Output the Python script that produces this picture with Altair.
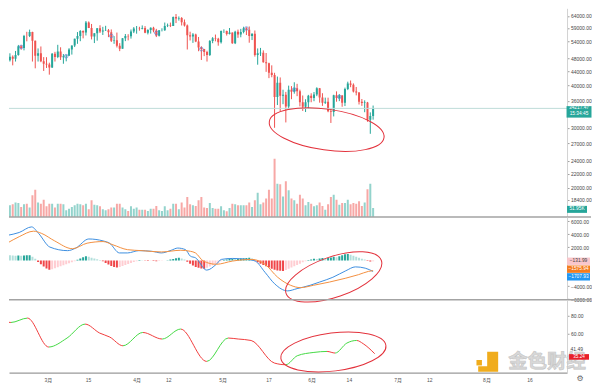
import altair as alt
import numpy as np
import pandas as pd

FONT = "Liberation Sans, Noto Sans CJK SC"

# ---------------- data (day 0 = 2021-02-15; first candle 2021-02-13) ----------------
first_day = -2
opens = [47240, 47400, 48590, 47910, 49130, 52120, 51550, 55900, 55840, 57410, 54090, 48890, 49680, 47070, 46280, 46100,
         45140, 49590, 48440, 50350, 48370, 48750, 48880, 50970, 52380, 54880, 55860, 57800, 57230, 61190, 59000, 55660,
         56900, 58910, 57650, 58030, 58100, 57350, 54100, 54340, 52300, 51300, 55050, 55880, 55780, 57630, 58770, 58800,
         58730, 58960, 57100, 58200, 59130, 57990, 56000, 58100, 58100, 59770, 59960, 59840, 63580, 62960, 63160, 61330,
         60000, 56150, 55660, 56470, 53800, 51700, 51190, 50110, 49120, 54050, 55040, 54880, 53590, 57800, 57850, 56610,
         57210, 53240, 57500, 56430, 57380, 58930, 58280, 55860, 56750, 49150, 49720, 49880, 46760, 46450, 43540, 42900,
         36970, 40700, 37300, 37530, 34650, 38800, 38320, 39240, 38440, 35660, 34600, 35650, 37290, 36690, 37570, 39190,
         36840, 35520, 35800, 33550, 33400, 37390, 36680, 37330, 35550, 39020, 40520, 40140, 38350, 38090, 35820, 35480,
         35600, 31680, 32500]
highs = [48150, 49700, 49000, 50500, 52600, 52550, 56300, 57500, 58350, 57530, 54180, 51370, 52050, 48430, 48400, 46640,
         49790, 50200, 52640, 51770, 49450, 49200, 51450, 52400, 54900, 57390, 58150, 58050, 61850, 61680, 60630, 56950,
         58980, 60100, 59470, 59880, 58600, 58420, 55840, 57200, 53240, 55070, 56640, 56560, 58400, 59370, 59800, 59490,
         60040, 59760, 58500, 59250, 59480, 58650, 58150, 58880, 61220, 60800, 61200, 63770, 64850, 63800, 63520, 62500,
         60400, 57530, 57000, 56760, 55520, 52130, 51200, 50560, 54360, 55460, 56430, 55200, 58000, 58450, 57950, 58990,
         57220, 57900, 58360, 58650, 59500, 59300, 59600, 56900, 58000, 51360, 51550, 50700, 49800, 46640, 45800, 43550,
         42450, 42200, 38830, 38270, 39920, 39790, 40840, 40410, 38850, 37340, 36400, 37500, 37900, 38230, 39480, 39290,
         37920, 36800, 36790, 34070, 37530, 38400, 37680, 37440, 39380, 41000, 41330, 40530, 39560, 38200, 36460, 36140,
         35750, 33300, 34880]
lows = [46200, 47000, 45800, 47000, 48900, 50900, 50700, 53900, 55480, 47000, 44890, 47000, 46800, 44100, 45000, 43000,
        45000, 47000, 48100, 47500, 46300, 47070, 48880, 49270, 51850, 53000, 53950, 55000, 56080, 58960, 54600, 53270,
        54150, 57020, 56270, 57820, 55450, 53650, 53000, 51700, 50430, 51300, 53970, 54240, 54900, 57000, 56770, 57930,
        58450, 56950, 56480, 56800, 57300, 55470, 55700, 57650, 57870, 59360, 59370, 59800, 61000, 62020, 60000, 59580,
        51000, 54220, 53330, 53600, 50400, 47500, 48750, 47000, 48800, 53220, 53900, 52330, 53100, 57050, 56050, 56480,
        53000, 52900, 55200, 55400, 56900, 56240, 53400, 54370, 48600, 46000, 48800, 46650, 43830, 42000, 42250, 30000,
        35000, 33490, 35200, 31110, 34030, 36420, 37800, 37170, 34680, 33630, 33380, 34150, 35670, 35920, 37170, 35570,
        34800, 35260, 33340, 31000, 32400, 35800, 35940, 34600, 34760, 38730, 39500, 38120, 37370, 35130, 34800, 33340,
        31250, 28800, 31700]
closes = [47400, 48590, 47910, 49130, 52120, 51550, 55900, 55840, 57410, 54090, 48890, 49680, 47070, 46280, 46100, 45140,
          49590, 48440, 50350, 48370, 48750, 48880, 50970, 52380, 54880, 55860, 57800, 57230, 61190, 59000, 55660, 56900,
          58910, 57650, 58030, 58100, 57350, 54100, 54340, 52300, 51300, 55050, 55880, 55780, 57630, 58770, 58800, 58730,
          58960, 57100, 58200, 59130, 57990, 56000, 58100, 58120, 59770, 59960, 59840, 63580, 62960, 63160, 61330, 60000,
          56150, 55660, 56470, 53800, 51700, 51190, 50110, 49120, 54050, 55040, 54880, 53590, 57800, 57850, 56610, 57210,
          53240, 57500, 56430, 57380, 58930, 58280, 55860, 56750, 49150, 49720, 49880, 46760, 46450, 43540, 42900, 36970,
          40700, 37300, 37530, 34650, 38800, 38320, 39240, 38440, 35660, 34600, 35650, 37290, 36690, 37570, 39190, 36840,
          35520, 35800, 33550, 33400, 37390, 36680, 37330, 35550, 39020, 40520, 40140, 38350, 38090, 35820, 35480, 35600,
          31680, 32500, 34217.47]
volumes_k = [58, 68, 73, 83, 81, 58, 73, 77, 54, 125,
             158, 83, 77, 100, 62, 77, 77, 54, 77, 77,
             73, 39, 48, 58, 68, 77, 73, 68, 77, 44,
             96, 71, 68, 62, 44, 39, 44, 54, 54, 77,
             77, 54, 44, 35, 62, 48, 54, 42, 42, 42,
             35, 48, 48, 63, 39, 35, 62, 39, 48, 77,
             77, 44, 83, 54, 115, 73, 68, 63, 96, 115,
             54, 52, 81, 52, 48, 48, 62, 39, 33, 52,
             77, 73, 68, 68, 68, 68, 83, 58, 96, 140,
             73, 83, 106, 158, 106, 336, 192, 189, 119, 206,
             154, 106, 96,
             77, 129, 106, 68, 87, 77, 62, 68, 83, 63, 42, 73, 115, 129, 100, 71, 81, 81, 100, 73, 81, 77, 91, 63,
             83, 160, 192, 51.95]
macd_hist = [850, 800, 760, 700, 740, 700, 740, 780, 800, 550, 250,
             -250, -600, -950, -1250, -1450,
             -1350, -1200, -1050, -900, -750, -600, -450, -300, -150,
             100, 300, 500, 650,
             550, 400, 280, 160, 60,
             -150, -400, -650, -850, -1000, -1100,
             -1000, -850, -700, -550, -400, -250, -120,
             50, 30, -40, -80, -60, -100, -130, -90, -60, -30,
             40, 120, 220, 330, 420, 300, 150,
             -200, -500, -800, -1000, -1150, -1250, -1300,
             -1150, -950, -750, -550, -350, -150,
             60, 120, 200, 250, 200, 230, 280, 320, 380, 420, 300,
             -100, -300, -500, -700, -900, -1100, -1300, -1450, -1550, -1600, -1650,
             -1500, -1300, -1100, -900, -700, -500, -300, -150,
             60, 150, 250, 200, 300, 380, 300, 350, 450, 550, 500, 650, 800, 950, 1000,
             850, 700, 550, 400, 250, 120,
             -100, -160, -131.99]

macd_days = [-2, 2.3, 6.7, 9.2, 13.2, 19.5, 22.4, 27, 32.1, 34.4, 37.9, 40.8, 44.8, 49.4, 52.8, 56.3, 58.6, 61.4,
             63.1, 64.9, 68.9, 72.3, 74.1, 78.1, 83.2, 86.1, 89.6, 93, 97.6, 101, 105.6, 109, 113.7, 118.3, 121.7,
             125.2, 128]
macd_vals = [3850, 4300, 5160, 4150, 2050, 1500, 1900, 3300, 3000, 2650, 1150, 1150, 1500, 1400, 1150, 1560, 1900,
             1650, 650, 400, -1500, -600, 150, 300, 150, -100, -1840, -3600, -4700, -4350, -3840, -3340, -2600, -1600,
             -1000, -1200, -1707.93]
signal_days = [-2, 2.3, 7.4, 10.3, 14.9, 21.2, 26.4, 32.1, 35.6, 40.8, 45.9, 52.8, 59.7, 63.1, 64.9, 67.7, 72.3,
               78.1, 85, 89.6, 94.1, 98.7, 102.2, 106.8, 112.5, 118.3, 122.8, 126.3, 128]
signal_vals = [2650, 3650, 4500, 4150, 3000, 1800, 2650, 2900, 2400, 1650, 1500, 1300, 1560, 1400, 1150, -100, -600,
               -100, 150, -600, -2600, -3840, -4200, -3840, -3340, -2740, -2200, -1700, -1575.94]

rsi_days = [-2, 1.1, 6.9, 14.3, 20.7, 27, 32.1, 35.6, 40.2, 47.1, 53.9, 60.3, 69.4, 76.9, 80.4, 84.9, 93, 97, 101,
            106.8, 111.4, 114.2, 118.3, 121.7, 124, 128]
rsi_vals = [75.2, 72.2, 77.1, 44.9, 54.9, 70.4, 60.4, 56, 46.3, 61.1, 53.8, 64.9, 28.9, 54.9, 53.8, 52.2, 27.1, 25.2,
            35.2, 38.9, 40, 38.2, 49.3, 52.2, 48.6, 37.5]

tick_days = [0, 14, 28, 45, 56, 75, 91, 106, 119, 136, 147, 167, 182]
tick_labels = ["15", "3月", "15", "4月", "12", "5月", "17", "6月", "14", "7月", "12", "8月", "16"]
price_ticks = [64000, 59000, 54000, 48000, 44000, 40000, 36000, 30000, 27000, 24000, 22000, 20000, 18400]
macd_ticks = [6000, 4000, 2000, -4000, -6000]
rsi_ticks = [80, 60]

event_days = [3, 19, 35, 51, 67, 83, 100, 116]
event_prices = [51900, 48730, 55930, 57080, 51100, 58800, 38900, 37000]

# annotations (centre of the hand-drawn ellipses, in data units)
ell_price = {"day": 111.5, "v": 29630}
ell_macd = {"day": 114.0, "v": -2550}
ell_rsi = {"day": 113.6, "v": 39.4}

last_price = 34217.47
countdown = "15:34:45"
last_volume = 51.95
macd_badges = pd.DataFrame({"v": [-131.99, -1354, -2538],
                            "label": ["\u2212131.99", "\u22121575.94", "\u22121707.93"],
                            "bg": ["#f9c6cb", "#f57c1f", "#2196f3"],
                            "fg": ["#444444", "#ffffff", "#ffffff"]})
rsi_last = 33.9
rsi_last_label = "35.24"
rsi_ref = 41.49
watermark = "金色财经"

# ---------------- layout / style ----------------
W = 559
H1, H2, H3 = 209, 83, 73
X_DOMAIN = [0.45, 195.1]
PRICE_DOMAIN = [16393, 67413]
VOL_DOMAIN = [0, 1206]
MACD_DOMAIN = [-6077, 6692]
RSI_DOMAIN = [16.33, 97.44]

UP, DOWN = "#26a69a", "#ef5350"
VUP, VDOWN = "#93d3cc", "#f7a8a6"
HUD, HUL, HDD, HDL = "#26a69a", "#b2dfdb", "#f0474a", "#ffcdd2"
RSI_UP, RSI_DOWN = "#44d944", "#f03c3c"
ELL_COLOR = "#e3323c"
SEP = "#a3a3a3"
LBL = 5.0
BLBL = 4.8


def ellipse_path(r):
    return f"M -1 0 A 1 {r} 0 1 0 1 0 A 1 {r} 0 1 0 -1 0 Z"


def box_path(h):
    return f"M -1 -{h} L 1 -{h} L 1 {h} L -1 {h} Z"


days = list(range(first_day, first_day + len(closes)))
candles = pd.DataFrame({"day": days, "open": opens, "high": highs, "low": lows, "close": closes, "vol": volumes_k})
candles["ccol"] = np.where(candles["close"] >= candles["open"], UP, DOWN)
candles["vcol"] = np.where(candles["close"] >= candles["open"], VUP, VDOWN)

hist = pd.DataFrame({"day": days, "h": macd_hist})
hc = []
for i, v in enumerate(macd_hist):
    prev = macd_hist[i - 1] if i > 0 else v
    if v >= 0:
        hc.append(HUD if v >= prev else HUL)
    else:
        hc.append(HDD if v <= prev else HDL)
hist["hcol"] = hc

lines = pd.concat([
    pd.DataFrame({"day": macd_days, "v": macd_vals, "s": "macd"}),
    pd.DataFrame({"day": signal_days, "v": signal_vals, "s": "signal"}),
])

# oscillator: one smooth line, coloured by a hard-stop gradient (green rising, red falling)
rsi = pd.DataFrame({"day": rsi_days, "v": rsi_vals})
span = rsi_days[-1] - rsi_days[0]
stops = []
for i in range(1, len(rsi_days)):
    col = RSI_UP if rsi_vals[i] >= rsi_vals[i - 1] else RSI_DOWN
    o0 = (rsi_days[i - 1] - rsi_days[0]) / span
    o1 = (rsi_days[i] - rsi_days[0]) / span
    stops.append(alt.GradientStop(offset=o0, color=col))
    stops.append(alt.GradientStop(offset=o1, color=col))
rsi_grad = alt.LinearGradient(gradient="linear", stops=stops, x1=0, x2=1, y1=0, y2=0)

xs = alt.Scale(domain=X_DOMAIN, nice=False, zero=False)
x_plain = alt.X("day:Q", scale=xs, axis=None)
label_expr = "[" + ",".join(f"'{t}'" for t in tick_labels) + "][indexof([" + ",".join(
    str(d) for d in tick_days) + "], datum.value)]"
x_axis = alt.Axis(values=tick_days, labelExpr=label_expr, labelFontSize=LBL, labelColor="#555555", ticks=False,
                  domainColor="#9a9a9a", domainWidth=1.2, labelPadding=5, title=None, grid=False, labelFont=FONT,
                  labelOverlap=False, labelFlush=False)
x_bottom = alt.X("day:Q", scale=xs, axis=x_axis)


def yaxis(values):
    return alt.Axis(orient="right", values=values, format=".2f", labelFontSize=LBL, labelColor="#474747",
                    tickSize=2, tickColor="#9e9e9e", domainColor="#d2d2d2", labelPadding=1.5, title=None,
                    grid=False, labelFont=FONT, labelOverlap=False, labelFlush=False)


def py(field, axis=None):
    return alt.Y(field, type="quantitative",
                 scale=alt.Scale(type="log", domain=PRICE_DOMAIN, nice=False, zero=False), axis=axis)


def my(field, axis=None):
    return alt.Y(field, type="quantitative", scale=alt.Scale(domain=MACD_DOMAIN, nice=False, zero=False), axis=axis)


def ry(field, axis=None):
    return alt.Y(field, type="quantitative", scale=alt.Scale(domain=RSI_DOMAIN, nice=False, zero=False), axis=axis)


one = pd.DataFrame({"a": [0]})


def separator(h):
    return alt.Chart(one).mark_rule(color=SEP, strokeWidth=1.5).encode(
        x=alt.value(0), x2=alt.value(W + 24), y=alt.value(h))


# ---------------- panel 1: candles + volume ----------------
cb = alt.Chart(candles)
vol = cb.mark_bar(size=2, clip=True).encode(
    x=x_plain, y=alt.Y("vol:Q", scale=alt.Scale(domain=VOL_DOMAIN, nice=False), axis=None),
    color=alt.Color("vcol:N", scale=None))
wick = cb.mark_rule(strokeWidth=1, clip=True).encode(
    x=x_plain, y=py("low:Q"), y2="high:Q", color=alt.Color("ccol:N", scale=None))
body = cb.mark_bar(size=2, clip=True).encode(
    x=x_plain, y=py("open:Q", yaxis(price_ticks)), y2="close:Q", color=alt.Color("ccol:N", scale=None))
pline = alt.Chart(pd.DataFrame({"p": [last_price]})).mark_rule(color="#bfdcd9", strokeWidth=1).encode(y=py("p:Q"))
events = alt.Chart(pd.DataFrame({"day": event_days, "p": event_prices})).mark_point(
    shape="circle", size=13, filled=False, color="#5f82d4", strokeWidth=1, clip=True).encode(x=x_plain, y=py("p:Q"))
ell1 = alt.Chart(pd.DataFrame([ell_price])).mark_point(
    shape=ellipse_path(0.353), size=13456, angle=8, filled=False, color=ELL_COLOR, strokeWidth=1,
    opacity=1).encode(x=x_plain, y=py("v:Q"))
pb = pd.DataFrame({"p": [last_price], "l1": [f"{last_price:.2f}"], "l2": [countdown]})
pbadge = alt.Chart(pb).mark_point(shape=box_path(0.46), size=625, filled=True, color=UP, opacity=1,
                                  yOffset=3.5).encode(x=alt.value(W + 12), y=py("p:Q"))
ptext1 = alt.Chart(pb).mark_text(fontSize=BLBL, color="white", font=FONT).encode(
    x=alt.value(W + 12), y=py("p:Q"), text="l1:N")
ptext2 = alt.Chart(pb).mark_text(fontSize=BLBL, color="white", font=FONT, dy=6).encode(
    x=alt.value(W + 12), y=py("p:Q"), text="l2:N")
vb = pd.DataFrame({"v": [last_volume], "l": [f"{last_volume:.2f}K"]})
vys = alt.Y("v:Q", scale=alt.Scale(domain=VOL_DOMAIN, nice=False), axis=None)
vbadge = alt.Chart(vb).mark_point(shape=box_path(0.35), size=400, filled=True, color=UP, opacity=1,
                                  yOffset=1.4).encode(x=alt.value(W + 10), y=vys)
vtext = alt.Chart(vb).mark_text(fontSize=BLBL, color="white", font=FONT, dy=1.4).encode(
    x=alt.value(W + 10), y=vys, text="l:N")

panel1 = alt.layer(vol, wick, body, pline, events, ell1, pbadge, ptext1, ptext2, vbadge, vtext,
                   separator(H1)).resolve_scale(y="independent").properties(width=W, height=H1)

# ---------------- panel 2: MACD ----------------
hbars = alt.Chart(hist).mark_bar(size=2, clip=True).encode(
    x=x_plain, y=my("h:Q", yaxis(macd_ticks)), color=alt.Color("hcol:N", scale=None))
mlines = alt.Chart(lines).mark_line(strokeWidth=1, interpolate="monotone", clip=True).encode(
    x=x_plain, y=my("v:Q"),
    color=alt.Color("s:N", scale=alt.Scale(domain=["macd", "signal"], range=["#3d8fe0", "#f39040"]), legend=None))
ell2 = alt.Chart(pd.DataFrame([ell_macd])).mark_point(
    shape=ellipse_path(0.4), size=10200, angle=341, filled=False, color=ELL_COLOR, strokeWidth=1,
    opacity=1).encode(x=x_plain, y=my("v:Q"))
mbox = alt.Chart(macd_badges).mark_point(shape=box_path(0.32), size=529, filled=True, opacity=1).encode(
    x=alt.value(W + 11.5), y=my("v:Q"), color=alt.Color("bg:N", scale=None))
mtext = alt.Chart(macd_badges).mark_text(fontSize=BLBL, font=FONT).encode(
    x=alt.value(W + 11.5), y=my("v:Q"), text="label:N", color=alt.Color("fg:N", scale=None))
panel2 = alt.layer(hbars, mlines, ell2, mbox, mtext, separator(H2)).resolve_scale(
    y="independent").properties(width=W, height=H2)

# ---------------- panel 3: oscillator ----------------
rline = alt.Chart(rsi).mark_line(strokeWidth=1, interpolate="monotone", clip=True, color=rsi_grad).encode(
    x=x_bottom, y=ry("v:Q", yaxis(rsi_ticks)))
ell3 = alt.Chart(pd.DataFrame([ell_rsi])).mark_point(
    shape=ellipse_path(0.36), size=11236, angle=353, filled=False, color=ELL_COLOR, strokeWidth=1,
    opacity=1).encode(x=x_bottom, y=ry("v:Q"))
wm = pd.DataFrame({"t": [watermark]})
wtext = alt.Chart(wm).mark_text(fontSize=19.5, font="Noto Sans CJK SC", fontWeight="bold", color="#d9d9d9",
                                stroke="#c4c4c4", strokeWidth=0.6).encode(
    x=alt.value(W - 20), y=alt.value(62), text="t:N")
logo_big = alt.Chart(one).mark_point(shape="M -0.1 -1 L 1 -1 L 1 1 L -1 1 L -1 0.45 L -0.1 0.45 Z", size=400,
                                     filled=True, color="#f0ac1c", opacity=1).encode(
    x=alt.value(W - 79), y=alt.value(62))
logo_small = alt.Chart(one).mark_point(shape="square", size=30, filled=True, color="#f0ac1c", opacity=1).encode(
    x=alt.value(W - 88), y=alt.value(63))
rb = pd.DataFrame({"v": [rsi_last], "l": [rsi_last_label]})
rbox = alt.Chart(rb).mark_point(shape=box_path(0.28), size=400, filled=True, color="#e8202a", opacity=1).encode(
    x=alt.value(W + 12), y=ry("v:Q"))
rtext = alt.Chart(rb).mark_text(fontSize=4.6, color="white", font=FONT).encode(
    x=alt.value(W + 12), y=ry("v:Q"), text="l:N")
rr = pd.DataFrame({"v": [rsi_ref], "l": [f"{rsi_ref:.2f}"]})
rref = alt.Chart(rr).mark_text(fontSize=LBL, color="#474747", font=FONT, align="left", dy=-1.3).encode(
    x=alt.value(W + 3.5), y=ry("v:Q"), text="l:N")
gear = alt.Chart(one).mark_text(text="\u2699", fontSize=8, color="#666666", font="DejaVu Sans").encode(
    x=alt.value(W + 13), y=alt.value(H3 + 6))
panel3 = alt.layer(rline, ell3, wtext, logo_big, logo_small, rbox, rtext, rref, gear).resolve_scale(
    y="independent").properties(width=W, height=H3)

chart = alt.vconcat(panel1, panel2, panel3, spacing=0, bounds="flush").properties(
    padding={"left": 0, "right": 0, "top": 0, "bottom": 0}
).configure_view(stroke=None).configure_axis(grid=False)

chart.save("out.html", embed_options={"renderer": "svg", "actions": False})
